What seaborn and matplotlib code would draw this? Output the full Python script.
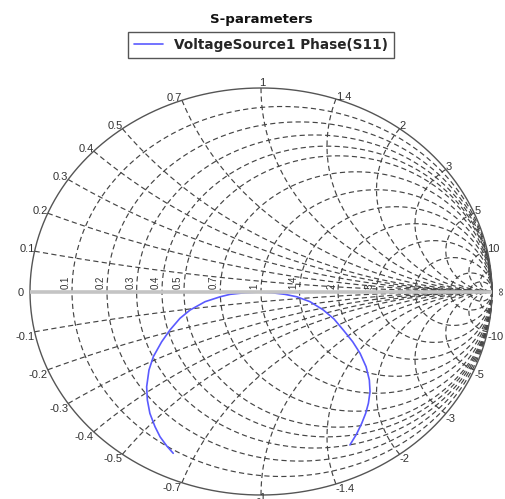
import numpy as np
import pandas as pd
import seaborn as sns
import matplotlib
matplotlib.use('Agg')
import matplotlib.pyplot as plt

# S11 trace (reflection coefficient)
gamma_re = [-0.380, -0.408, -0.437, -0.459, -0.481, -0.492, -0.495, -0.485, -0.466,
            -0.430, -0.394, -0.351, -0.307, -0.242, -0.177, -0.134, -0.069, -0.013,
            0.046, 0.104, 0.155, 0.212, 0.270, 0.316, 0.356, 0.397, 0.429, 0.455,
            0.469, 0.472, 0.465, 0.453, 0.436, 0.414, 0.385]
gamma_im = [-0.795, -0.759, -0.714, -0.664, -0.599, -0.533, -0.468, -0.386, -0.320,
            -0.247, -0.189, -0.132, -0.091, -0.050, -0.026, -0.014, -0.006, -0.003,
            -0.006, -0.014, -0.026, -0.050, -0.091, -0.135, -0.189, -0.247, -0.304, -0.370,
            -0.435, -0.492, -0.549, -0.599, -0.648, -0.700, -0.754]
trace_label = 'VoltageSource1 Phase(S11)'

# grid values
r_circles = [0.1, 0.2, 0.3, 0.4, 0.5, 0.7, 1, 1.4, 2, 3, 5, 10, 20]
x_arcs = [0.1, 0.2, 0.3, 0.4, 0.5, 0.7, 1, 1.4, 2, 3, 5, 10, 20]
r_labels = ['0.1', '0.2', '0.3', '0.4', '0.5', '0.7', '1', '1.4', '2', '3']
x_labels = ['0.1', '0.2', '0.3', '0.4', '0.5', '0.7', '1', '1.4', '2', '3', '5', '10']

sns.set_style('white')
plt.rcParams['font.family'] = ['Liberation Sans', 'DejaVu Sans']

fig = plt.figure(figsize=(5.06, 4.99), dpi=100)
ax = fig.add_axes([30 / 506, 4 / 499, 462 / 506, 407 / 499])
ax.set_xlim(-1, 1)
ax.set_ylim(-1, 1)
ax.axis('off')

grid_kw = dict(color='#454545', lw=0.85, dashes=(4.4, 2.8), zorder=1, clip_on=False)


def gamma(z):
    return (z - 1) / (z + 1)


# constant resistance circles
t = np.linspace(-np.pi / 2 + 1e-4, np.pi / 2 - 1e-4, 3000)
for r in r_circles:
    g = gamma(r + 1j * np.tan(t))
    ax.plot(g.real, g.imag, **grid_kw)

# constant reactance arcs
rr = np.concatenate([[0], np.geomspace(1e-3, 1e4, 3000)])
for xv in x_arcs:
    for s in (1, -1):
        g = gamma(rr + 1j * s * xv)
        ax.plot(g.real, g.imag, **grid_kw)

# outer circle and real axis
th = np.linspace(0, 2 * np.pi, 800)
ax.plot(np.cos(th), np.sin(th), color='#555555', lw=1.0, zorder=2, clip_on=False)
ax.plot([-1, 1], [0, 0], color='#c4c4c4', lw=2.6, zorder=4, solid_capstyle='butt')

# S11 trace
df = pd.DataFrame({'re': gamma_re, 'im': gamma_im})
sns.lineplot(data=df, x='re', y='im', sort=False, color='#5a5aff', lw=1.2,
             label=trace_label, ax=ax, zorder=3)
ax.set_xlabel('')
ax.set_ylabel('')

lab_kw = dict(fontsize=8, color='#333333', annotation_clip=False, textcoords='offset pixels')

# resistance labels along the real axis
for lab in r_labels:
    r = float(lab)
    gx = (r - 1) / (r + 1)
    ax.text(gx - 0.006, 0.012, lab, rotation=90, ha='right', va='bottom',
            fontsize=7, color='#333333')
ax.annotate('\u221e', (1, 0), xytext=(4, 0), rotation=90, ha='left', va='center', **lab_kw)

# reactance labels around the rim
for lab in x_labels:
    xv = float(lab)
    for s in (1, -1):
        g = gamma(1j * s * xv)
        gx, gy = g.real, g.imag
        txt = lab if s > 0 else '-' + lab
        if abs(gx) < 0.05:
            ax.annotate(txt, (gx, gy), xytext=(1, 0 if s > 0 else 2), ha='center',
                        va='bottom' if s > 0 else 'top', **lab_kw)
            continue
        ha = 'right' if gx < 0 else 'left'
        dy = 2.5 if s > 0 else -5
        ax.annotate(txt, (gx, gy), xytext=(0, dy), ha=ha, va='center', **lab_kw)
ax.annotate('0', (-1, 0), xytext=(-6, -1), ha='right', va='center', **lab_kw)

fig.text(261 / 506, 1 - 19 / 499, 'S-parameters', ha='center', va='center',
         fontsize=9.6, fontweight='bold', family='DejaVu Sans', color='#111111')
leg = ax.legend(loc='upper center', bbox_to_anchor=(261 / 506, 1 - 31.5 / 499),
                bbox_transform=fig.transFigure, fancybox=False, framealpha=1,
                edgecolor='#555555', handlelength=2.1, handletextpad=0.8,
                borderpad=0.45, borderaxespad=0,
                prop={'size': 9.8, 'weight': 'bold', 'family': 'DejaVu Sans'})
leg.get_frame().set_linewidth(1.0)

fig.savefig('out.png', dpi=100)
